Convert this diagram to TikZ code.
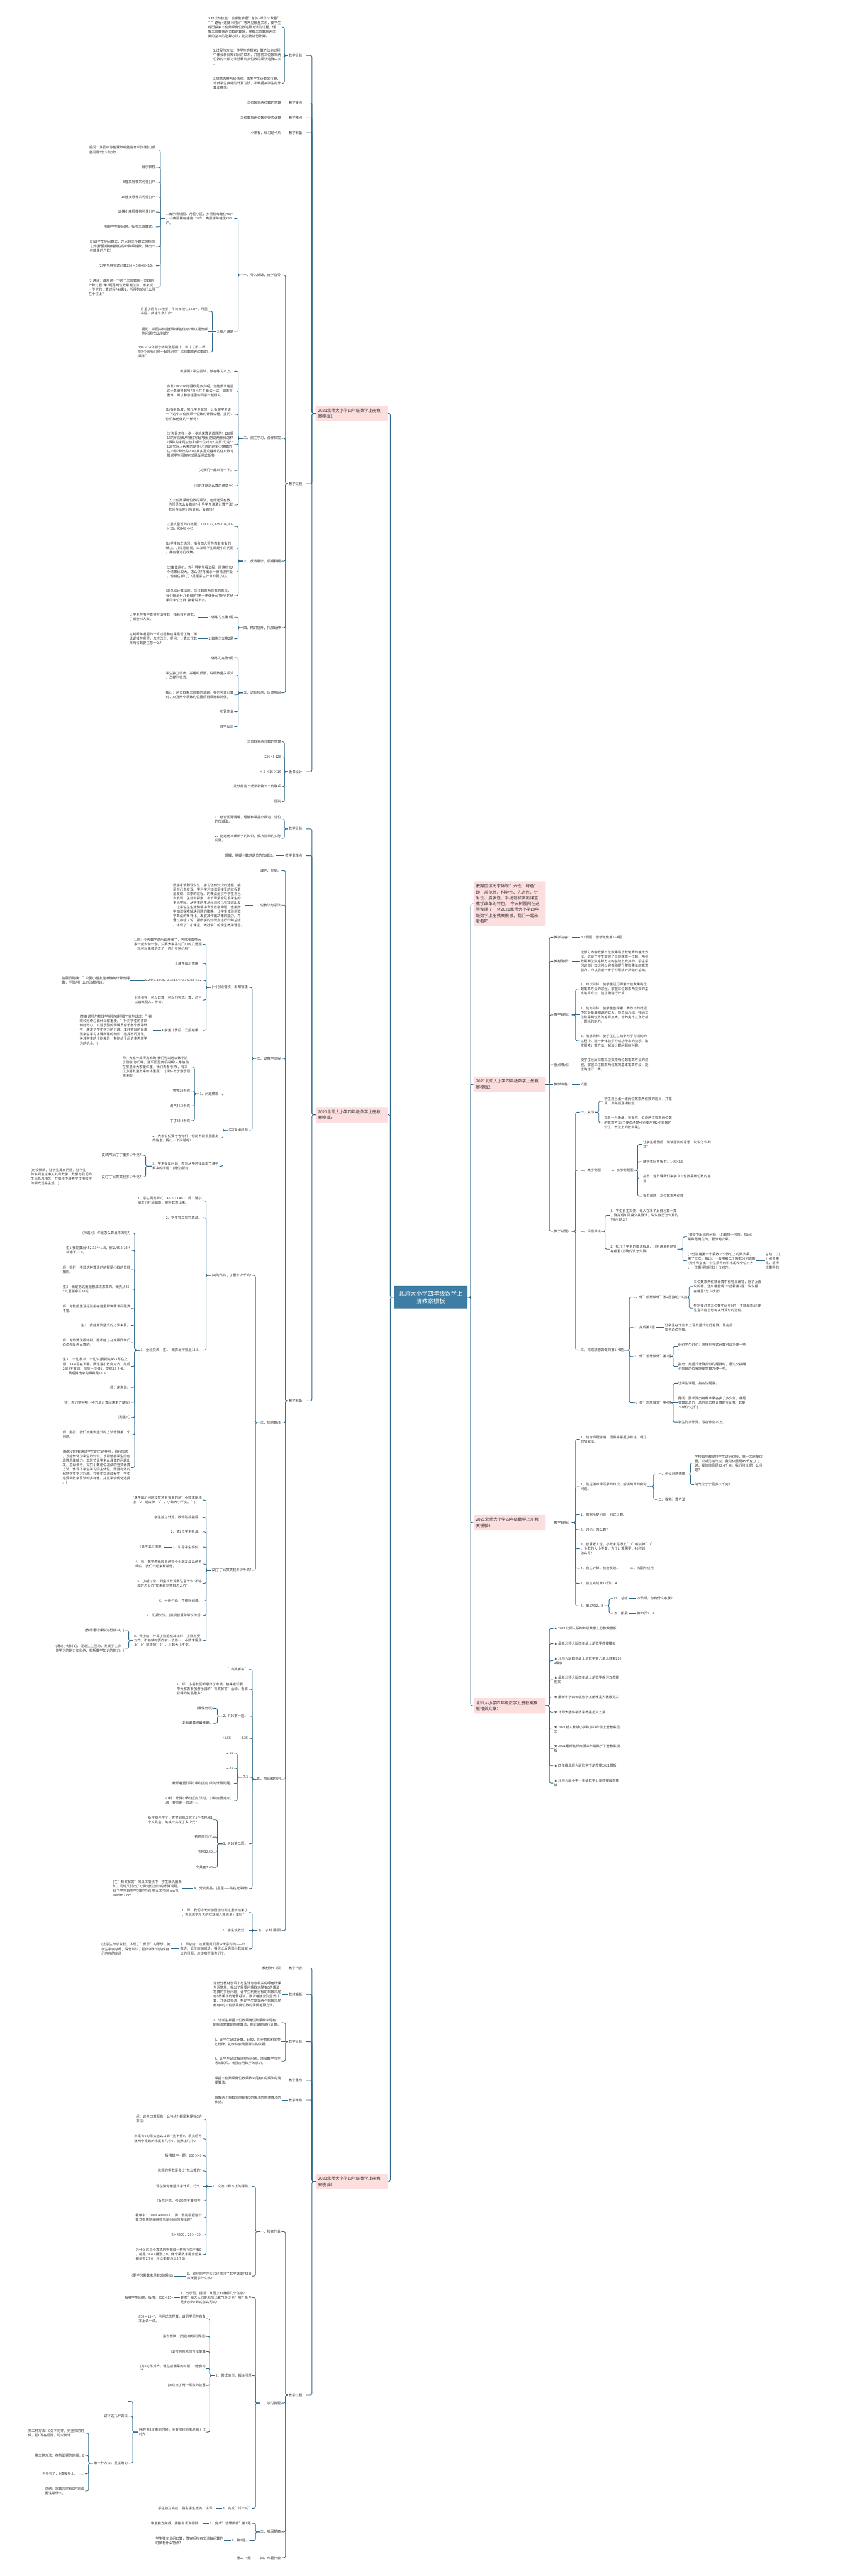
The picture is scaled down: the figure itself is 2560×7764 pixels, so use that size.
\documentclass[tikz,border=0pt]{standalone}
\usepackage{fontspec}
\setmainfont{Noto Sans CJK SC}
\definecolor{lc}{RGB}{47,104,138}
\definecolor{txt}{RGB}{55,55,55}
\definecolor{pinkc}{RGB}{252,222,222}
\definecolor{ctrc}{RGB}{62,126,165}
\definecolor{ctrb}{RGB}{40,95,130}
\newcommand\mmL[3]{\draw[conn] (#2.east) -- (#3,0 |- #2.east) |- (#1.west);}
\newcommand\mmR[3]{\draw[conn] (#2.west) -- (#3,0 |- #2.west) |- (#1.east);}
\newcommand\mmLs[2]{\draw[conn] (#2.east) -- (#1.west);}
\newcommand\mmRs[2]{\draw[conn] (#2.west) -- (#1.east);}
\begin{document}
\begin{tikzpicture}[x=1pt,y=-1pt,
  tx/.style={font=\fontsize{10.2}{13.4}\selectfont, text=txt, inner sep=2pt},
  L/.style={tx, anchor=east, align=left},
  R/.style={tx, anchor=west, align=left},
  conn/.style={draw=lc, line width=1.7pt, rounded corners=5pt},
  pk/.style={fill=pinkc, rounded corners=3pt, font=\fontsize{12.4}{17.9}\selectfont, text=txt, align=left, text width=203pt, inner xsep=7pt, inner ysep=4pt, minimum height=46pt},
  ctr/.style={fill=ctrc, draw=ctrb, line width=0.8pt, rounded corners=2pt, font=\fontsize{17.5}{23}\selectfont, text=white, align=center, minimum width=221pt, minimum height=67pt}]
\fill[white] (0,0) rectangle (2560,7764);
\useasboundingbox (0,0) rectangle (2560,7764);

% ---------- root and main branches
\node[ctr] (root) at (1297.5,3910) {北师大小学四年级数学上\\册教案模板};
\node[pk] (p1) at (1059.5,1246) {2021北师大小学四年级数学上册教\\案模板1};
\node[pk] (p3) at (1059.5,3360) {2021北师大小学四年级数学上册教\\案模板3};
\node[pk] (p5) at (1059.5,6575) {2021北师大小学四年级数学上册教\\案模板5};
\node[pk, minimum height=135pt, font=\fontsize{12.5}{17.6}\selectfont] (intro) at (1535.5,2724) {教案应该力求体现"六性一特色"，\\即：规范性、科学性、先进性、针\\对性、启发性、系统性和突出课堂\\教学改革的特色。 今天树图网在这\\里整理了一些2021北师大小学四年\\级数学上册教案模板，我们一起来\\看看吧!};
\node[pk] (p2) at (1535.5,3268) {2021北师大小学四年级数学上册教\\案模板2};
\node[pk] (p4) at (1535.5,4589) {2021北师大小学四年级数学上册教\\案模板4};
\node[pk] (rel) at (1535.5,5141) {北师大小学四年级数学上册教案模\\板相关文章：};
\mmL{root}{p1}{1176} \mmL{root}{p3}{1176} \mmL{root}{p5}{1176}
\mmR{root}{intro}{1418} \mmR{root}{p2}{1418} \mmR{root}{p4}{1418} \mmR{root}{rel}{1418}

% ================= 模板1
\node[L] (a1) at (923,167) {教学目标：};
\node[L] (a2) at (923,310) {教学重点：};
\node[L] (a3) at (923,355) {教学难点：};
\node[L] (a4) at (923,400) {教学准备：};
\node[L] (a5) at (923,1458) {教学过程：};
\node[L] (a6) at (923,2326) {板书设计：};
\foreach \n in {a1,a2,a3,a4,a5,a6} {\mmL{p1}{\n}{940}}
\node[L] (a1a) at (849,82) {1.知识与技能：使学生掌握"总价=单价×数量"\\""路程=速度×时间"等常见数量关系，使学生\\经历探索三位数乘两位数笔算方法的过程，理\\解三位数乘两位数的算理，掌握三位数乘两位\\数的基本的笔算方法，能正确进行计算。};
\node[L] (a1b) at (849,172) {2.过程与方法：使学生在探索计算方法的过程\\中体会新旧知识间的联系，并能将三位数乘两\\位数的一般方法迁移到多位数的乘法运算中去\\。};
\node[L] (a1c) at (849,251) {3.情感态度与价值观：激发学生计算的兴趣，\\培养学生良好的计算习惯，不断提高学生的计\\算正确率。};
\foreach \n in {a1a,a1b,a1c} {\mmL{a1}{\n}{857}}
\node[L] (a2a) at (849,310) {三位数乘两位数的笔算}; \mmLs{a2}{a2a}
\node[L] (a3a) at (849,355) {三位数乘两位数列竖式计算}; \mmLs{a3}{a3a}
\node[L] (a4a) at (849,400) {小黑板，练习题卡片}; \mmLs{a4}{a4a}

\node[L] (b1) at (848,829) {一、导入新课，自学指导};
\node[L] (b2) at (848,1321) {二、自主学习，合作探究};
\node[L] (b3) at (848,1691) {三、反馈展示，质疑释疑};
\node[L] (b4) at (848,1892) {四、精讲提升，拓展延伸};
\node[L] (b5) at (848,2088) {五、达标检测，反馈巩固};
\foreach \n in {b1,b2,b3,b4,b5} {\mmL{a5}{\n}{860}}

\node[L] (c1) at (706,659) {1.出示情境图：月星小区，多层楼每幢住48户\\，小高层楼每幢住128户，高层楼每幢住236\\户。};
\node[L] (c2) at (706,999) {2.揭示课题};
\mmL{b1}{c1}{718} \mmL{b1}{c2}{718}
\node[L] (c1a) at (470,452) {提问：从图中你能获取哪些信息?可以提出哪\\些问题?怎么列式?};
\node[L] (c1b) at (470,504) {出示表格};
\node[L] (c1c) at (470,549) {5幢高层楼共可住( )户};
\node[L] (c1d) at (470,594) {16幢多层楼共可住( )户};
\node[L] (c1e) at (470,639) {16幢小高层楼共可住( )户};
\node[L] (c1f) at (470,684) {根据学生的回答，板书三道算式。};
\node[L] (c1g) at (470,743) {(1)请学生列出算式，并比较三个算式的相同\\之处(都要用每幢楼住的户数乘幢数，算出一\\共能住的户数)};
\node[L] (c1h) at (470,801) {(2)学生用竖式计算236×5和48×16。};
\node[L] (c1i) at (470,866) {(3)讲评：谁来说一下这个三位数乘一位数的\\计算过程?第2题是两位数乘两位数，谁来说\\一下它的计算过程?48乘1，所得的8为什么写\\在十位上?};
\foreach \n in {c1a,c1b,c1c,c1d,c1e,c1f,c1g,c1h,c1i} {\mmL{c1}{\n}{483}}
\node[L] (c2a) at (628,938) {月星小区有16幢楼，平均每幢住128户。月星\\小区一共住了多少户?};
\node[L] (c2b) at (628,999) {提问：从图中你能获取哪些信息?可以提出哪\\些问题?怎么列式?};
\node[L] (c2c) at (628,1061) {128×16和刚才的两道题相比，有什么不一样\\呢?今天我们就一起来研究"三位数乘两位数的\\乘法"};
\mmL{c2}{c2a}{640} \mmLs{c2}{c2b} \mmL{c2}{c2c}{640}

\node[L] (b2a) at (706,1119) {教学例1 学生尝试，做在练习本上。};
\node[L] (b2b) at (706,1178) {启发128×16的得数是多少呢，你能尝试用竖\\式计算出得数吗?自己在下面试一试，如果有\\困难，可以和小组里的同学一起研究。};
\node[L] (b2c) at (706,1249) {(1)指名板演，展示学生做的，让板演学生说\\一下这个三位数乘一位数的计算过程。提问：\\你们和他做的一样吗?};
\node[L] (b2d) at (706,1340) {(2)你是怎样一步一步地来算这道题的? 128乘\\16的积应该从哪位写起?我们把这两部分怎样\\?得数的末尾应该和哪一位对齐?(指算式)这个\\128实际上代表的是多少?求的是多少幢楼的\\住户数?算出的2048其实是几幢楼的住户数?(\\根据学生回答完成黑板竖式板书)};
\node[L] (b2e) at (706,1418) {(3)我们一起来答一下。};
\node[L] (b2f) at (706,1464) {(4)刚才是这么算的请举手?};
\node[L] (b2g) at (706,1522) {(5)三位数乘两位数的乘法，老师还没有教，\\你们是怎么会做的?(引导学生说清计算方法)\\教师再给你们两道题，会做吗?};
\foreach \n in {b2a,b2b,b2c,b2d,b2e,b2f,b2g} {\mmL{b2}{\n}{718}}
\node[L] (b3a) at (706,1587) {以竖式呈现的四道题：213×32,375×24,309\\×26，和248×45};
\node[L] (b3b) at (706,1652) {(1)学生独立练习，指名四人写在教者准备的\\纸上。并注意巡视，以发现学生解题中的问题\\，并有意进行收集。};
\node[L] (b3c) at (706,1724) {(2)集体评析。先引导学生看过程，同意吗?这\\个结果比较大，怎么读?再出示一份错误作业\\，他错在哪儿了?提醒学生计算时要小心。};
\node[L] (b3d) at (706,1795) {(3)总结计算法则。三位数乘两位数的乘法，\\我们都是分几步做的?第一步做什么?所得的结\\果的末位怎样?接着说下去。};
\foreach \n in {b3a,b3b,b3c,b3d} {\mmL{b3}{\n}{718}}
\node[L] (d1) at (706,1860) {1.做练习五第1题};
\node[L] (d2) at (706,1925) {2.做练习五第2题};
\mmL{b4}{d1}{718} \mmL{b4}{d2}{718}
\node[L] (d1a) at (596,1860) {让学生在书中直接写出得数，指名核对得数，\\了解全对人数。}; \mmLs{d1}{d1a}
\node[L] (d2a) at (596,1925) {先判断每道题的计算过程和结果是否正确，再\\说说错在哪里，怎样改正。提问：计算三位数\\乘两位数要注意什么?}; \mmLs{d2}{d2a}
\node[L] (b5a) at (706,1983) {做练习五第4题};
\node[L] (b5b) at (706,2035) {学生独立填表，并组织反馈，说明数量关系式\\，怎样列竖式。};
\node[L] (b5c) at (706,2094) {指出：两位数乘三位数的试题，在列竖式计算\\时，交互两个乘数的位置后再乘比较简便。};
\node[L] (b5d) at (706,2145) {布置作业};
\node[L] (b5e) at (706,2190) {教学反思};
\foreach \n in {b5a,b5b,b5d,b5e} {\mmL{b5}{\n}{718}}
\draw[conn] (b5c.east) -- (718,0 |- b5c.east) -- (718,0 |- b5.west) -- (b5.west);

\node[L] (a6a) at (849,2236) {三位数乘两位数的笔算};
\node[L] (a6b) at (849,2281) {236 48 128};
\node[L] (a6c) at (849,2326) {× 5 ×16 ×16};
\node[L] (a6d) at (849,2371) {比较前两个式子和第三个的联系};
\node[L] (a6e) at (849,2416) {区别};
\foreach \n in {a6a,a6b,a6d,a6e} {\mmL{a6}{\n}{857}}
\mmLs{a6}{a6c}

% ================= 模板3
\node[L] (g1) at (923,2498) {教学目标：};
\node[L] (g2) at (923,2579) {教学重难点：};
\node[L] (g3) at (923,4222) {教学准备：};
\foreach \n in {g1,g2,g3} {\mmL{p3}{\n}{940}}
\node[L] (g1a) at (849,2469) {1、结合问题情境，理解和掌握小数进、退位\\的加减法。};
\node[L] (g1b) at (849,2527) {2、能运用本课所学的知识，解决简单的实际\\问题。};
\mmL{g1}{g1a}{857} \mmL{g1}{g1b}{857}
\node[L] (g2a) at (833,2579) {理解、掌握小数进退位的加减法。}; \mmLs{g2}{g2a}

\node[L] (h1) at (848,2624) {课件、星星。};
\node[L] (h2) at (848,2728) {二、说教法与学法};
\node[L] (h3) at (848,3190) {三、说教学流程};
\node[L] (h4) at (848,4288) {三、探索算法};
\node[L] (h5) at (848,5362) {四、巩固和应用};
\node[L] (h6) at (848,5819) {五、总 结 回 顾};
\foreach \n in {h1,h2,h3,h4,h5,h6} {\mmL{g3}{\n}{860}}
\node[L] (h2a) at (738,2728) {数学家波利亚说过：学习任何知识的途径，都\\是自己去发现。学习学习知识是接受的过程更\\是发现、探索的过程。的教法是引导学生自己\\去发现、主动去探索。本节课紧密联系学生的\\生活实际，从学生的生活经验和已有知识出发\\，让学生在生活情境中发现数学问题，运用所\\学知识探索解决问题的策略，让学生体验到数\\学算法的多样化，发展其作出决策的能力。并\\通过小组讨论，把所学的知识点进行归纳总结\\。体现了"小课堂，大社会"的课堂教学理念。};
\mmLs{h2}{h2a}

\node[L] (i1) at (749,2976) {(一)创设情境，旧知铺垫};
\node[L] (i2) at (749,3406) {(二)提出问题};
\mmL{h3}{i1}{760} \mmL{h3}{i2}{760}
\node[L] (i1a) at (610,2846) {1.师：今天数学游乐园开张了，老师准备带大\\家一起去游一游。只要大家答对门口的几道题\\，就可以免费进去了，你们有信心吗?};
\node[L] (i1b) at (610,2904) {2.课件出示情境：};
\node[L] (i1c) at (610,2955) {0.24+0.1 0.82-0.321.54+2.3 9.88-4.32};
\node[L] (i1d) at (610,3014) {3.师引导：可以口算，可以列竖式计算、还可\\以请教别人，等等。};
\node[L] (i1e) at (610,3105) {4.学生计算后，汇报结果。};
\foreach \n in {i1a,i1b,i1c,i1d,i1e} {\mmL{i1}{\n}{621}}
\node[L] (i1c1) at (393,2955) {售票员阿姨："只要小朋友能准确地计算出得\\数，不管用什么方法都可以。}; \mmLs{i1c}{i1c1}
\node[L] (i1e1) at (460,3105) {(华裔诺贝尔物理学获奖者杨振宁先生说过："喜\\欢和好奇心比什么都重要。"针对学生的喜欢\\和好奇心，以游乐园的情境贯穿于各个教学环\\节，激发了学生学习的兴趣。本环节目的是激\\活学生学习本课所需的知识，选择不同算法，\\关注学生的个别差异，特别给予后进生再次学\\习的机会。)}; \mmLs{i1e}{i1e1}

\node[L] (j1) at (661,3297) {1、问题情境};
\node[L] (j2) at (661,3430) {2、大象伯伯要考考你们：你能不能根据图上\\的信息，提出一个问题呢?};
\node[L] (j3) at (661,3515) {3、学生提出问题，教师从中选择出本节课将\\解决的问题：(退位减法)};
\foreach \n in {j1,j2,j3} {\mmL{i2}{\n}{672}}
\node[L] (j1a) at (575,3216) {师：大家计算得真准确!我们可以进去数学游\\乐园喽!你们瞧，游乐园里真乐闹啊!大象伯伯\\在那里给大家量体重，我们去看看!哦，有三\\位小朋友量出来的体重是......(课件出示游乐园\\情境图)};
\node[L] (j1b) at (575,3288) {笑笑38千克};
\node[L] (j1c) at (575,3333) {淘气45.2千克};
\node[L] (j1d) at (575,3378) {丁丁33.4千克};
\foreach \n in {j1a,j1b,j1c,j1d} {\mmL{j1}{\n}{586}}
\node[L] (j3a) at (428,3482) {(1)淘气比丁丁重多少千克?};
\node[L] (j3b) at (428,3547) {(2)丁丁比笑笑轻多少千克?};
\mmL{j3}{j3a}{439} \mmL{j3}{j3b}{439}
\node[L] (j3b1) at (279,3547) {(创设情境，让学生提出问题，让学生\\体会到生活中处处有数学，数学与我们的\\生活息息相关，在情境中培养学生用数学\\的眼光观察生活。)}; \mmLs{j3b}{j3b1}

\node[L] (k1) at (760,3844) {(1)淘气比丁丁重多少千克?};
\node[L] (k2) at (760,4733) {(2)丁丁比笑笑轻多少千克?};
\mmL{h4}{k1}{770} \mmL{h4}{k2}{770}
\node[L] (k1a) at (610,3619) {1、学生列出算式：45.2-33.4=2、师：请小\\朋友们开动脑筋，把得数算出来。};
\node[L] (k1b) at (610,3670) {2、学生独立探究算法。};
\node[L] (k1c) at (610,4069) {3、全班交流：生1：我算出得数是11.8。};
\foreach \n in {k1a,k1b,k1c} {\mmL{k1}{\n}{621}}
\node[L] (kc1) at (395,3716) {(师追问：你是怎么算出来的呢?)};
\node[L] (kc2) at (395,3768) {生1:我先算出452-334=118，那么45.2-33.4\\就等于11.8。};
\node[L] (kc3) at (395,3827) {师：很好，不过这种算法的前提是小数的位数\\相同。};
\node[L] (kc4) at (395,3885) {生2：我是把这道题想成钱来算的。我先从45.\\2元里面拿出33元......};
\node[L] (kc5) at (395,3944) {师：你能把生活经验用在这里解决算术问题真\\不错。};
\node[L] (kc6) at (395,3995) {生3：我能用列竖式的方法来算。};
\node[L] (kc7) at (395,4047) {师：你的算法很特别，能不能上台来跟同学们\\说说你是怎么算的。};
\node[L] (kc8) at (395,4118) {生3：(一边板书，一边讲)我把先45.2写在上\\面，33.4写在下面，要注意小数点对齐，然后\\2减4不够减，找前一位借1，变成12-4=8，\\......最后算出来的得数是11.8};
\node[L] (kc9) at (395,4182) {师：谢谢你。};
\node[L] (kc10) at (395,4227) {师：你们觉得哪一种方法计算起来更方便呢?};
\node[L] (kc11) at (395,4272) {(列竖式)};
\node[L] (kc12) at (395,4324) {师：那好，我们就用列竖式的方法计算第二个\\问题。};
\node[L] (kc13) at (395,4423) {(新知识只有通过学生的主动参与，自行探索\\，才能转化为学生的知识，才能培养学生的创\\造性思维能力。本环节让学生从具体的问题出\\发，主动参与，探究小数退位减法的竖式计算\\方法，体现了学生学习的主体性，而且有效的\\保持学生学习兴趣。在师生交流过程中，学生\\感受到数学算法的多样化，并且学会优化选择\\。)};
\foreach \n in {kc1,kc2,kc3,kc4,kc5,kc6,kc7,kc8,kc9,kc10,kc11,kc12,kc13} {\mmL{k1c}{\n}{406}}

\node[L] (k2a) at (610,4521) {(课件出示问题及智慧爷爷说的话"小数末尾添\\上‘0’或去掉‘0’，小数大小不变。")};
\node[L] (k2b) at (610,4573) {1、学生独立计算，教师巡视指导。};
\node[L] (k2c) at (610,4617) {2、请2位学生板演。};
\node[L] (k2d) at (610,4663) {3、引导学生评价。};
\node[L] (k2e) at (610,4714) {4、师：数学游乐园里还有个小朋友晶晶还不\\明白，我们一起来帮帮他。};
\node[L] (k2f) at (610,4772) {5、小组讨论：列竖式计算要注意什么?不够\\减时怎么办?如果碰到整数怎么办?};
\node[L] (k2g) at (610,4825) {6、分组讨论，并做好记录。};
\node[L] (k2h) at (610,4869) {7、汇报交流。(强调智慧爷爷说的话)};
\node[L] (k2i) at (610,4945) {8、师小结：计算小数退位减法时，小数点要\\对齐，不够减时要向前一位借一。小数末尾添\\上"0"或去掉"0"，小数大小不变。};
\foreach \n in {k2a,k2b,k2c,k2d,k2e,k2f,k2g,k2h,k2i} {\mmL{k2}{\n}{621}}
\node[L] (k2d1) at (492,4663) {(课件出示情境)}; \mmLs{k2d}{k2d1}
\node[L] (k2i1) at (377,4915) {(教师通过课件进行板书。)};
\node[L] (k2i2) at (377,4968) {(通过小组讨论，促进生生互动，发展学生合\\作学习的能力和归纳、概括数学知识的能力。)};
\mmL{k2i}{k2i1}{388} \mmL{k2i}{k2i2}{388}

\node[L] (l1) at (749,5032) {"有奖解答"};
\node[L] (l2) at (749,5091) {1、师：小朋友们都学好了本领，接来老师要\\带大家去参加游乐园的"有奖解答"活动，看谁\\获得的奖品最多?};
\node[L] (l3) at (749,5172) {2、P16第一题。};
\node[L] (l4) at (749,5239) {8.25};
\node[L] (l5) at (749,5356) {7.3};
\node[L] (l6) at (749,5557) {3、P16第二题。};
\node[L] (l7) at (749,5692) {4、分发奖品。(星星——贴在光荣榜)};
\foreach \n in {l1,l2,l3,l4,l5,l6,l7} {\mmL{h5}{\n}{760}}
\node[L] (l3a) at (643,5149) {(课件出示)};
\node[L] (l3b) at (643,5194) {(1)看谁算得最准确。};
\mmL{l3}{l3a}{655} \mmL{l3}{l3b}{655}
\node[L] (l4a) at (698,5239) {+1.55}; \mmLs{l4}{l4a}
\node[L] (l5a) at (705,5284) {-2.25};
\node[L] (l5b) at (705,5330) {- 2.45};
\node[L] (l5c) at (705,5375) {教师着重引导小数进位加法的计算问题。};
\node[L] (l5d) at (705,5427) {小结：计算小数进位加法时，小数点要对齐，\\满十要向前一位进一。};
\foreach \n in {l5a,l5b,l5c,l5d} {\mmL{l5}{\n}{715}}
\node[L] (l6a) at (643,5485) {新学期开学了，笑笑到商店买了1个书包和1\\个文具盒，笑笑一共花了多少元?};
\node[L] (l6b) at (643,5537) {名称单价/元};
\node[L] (l6c) at (643,5582) {书包32.50};
\node[L] (l6d) at (643,5628) {文具盒7.60};
\foreach \n in {l6a,l6b,l6c,l6d} {\mmL{l6}{\n}{655}}
\node[L] (l7a) at (550,5692) {(在"有奖解答"的具体情境中，学生既巩固新\\知，同时又引出了小数进位加法的计算问题。\\给予学生自主学习的空间) 第九文书网 wwW.\\9Word.Com}; \mmLs{l7}{l7a}

\node[L] (m1) at (749,5764) {1、师：我们今天的游园活动到这里就结束了\\，你愿意把今天的收获和大象伯伯分享吗?};
\node[L] (m2) at (749,5819) {2、学生谈收获。};
\node[L] (m3) at (749,5874) {3、师总结：这就是我们所今天学习的——小\\数进、退位的加减法。相信以后遇到小数加减\\法的问题，应该难不倒你们了。};
\mmL{h6}{m1}{760} \mmLs{h6}{m2} \mmL{h6}{m3}{760}
\node[L] (m3a) at (515,5874) {(让学生分享收获，体现了"反思"的思想，使\\学生学会总结，深化认识，把所学知识变成自\\己内在的东西}; \mmLs{m3}{m3a}

% ================= 模板5
\node[L] (n1) at (923,5932) {教学内容：};
\node[L] (n2) at (923,6011) {教材简析：};
\node[L] (n3) at (923,6154) {教学目标：};
\node[L] (n4) at (923,6270) {教学重点：};
\node[L] (n5) at (923,6329) {教学难点：};
\node[L] (n6) at (923,7218) {教学过程：};
\foreach \n in {n1,n2,n3,n4,n5,n6} {\mmL{p5}{\n}{940}}
\node[L] (n1a) at (848,5932) {教材第4-5页}; \mmLs{n1}{n1a}
\node[L] (n2a) at (849,6011) {这部分教材创设了与生活息息相关的绿色环保\\生活情境，提出了需要用乘数末尾有0的乘法\\笔算的实际问题，让学生利用已有的乘数末尾\\有0的乘法的笔算经验，尝试着独立列竖式计\\算，并通过交流，帮助学生掌握两个乘数末尾\\都有0的三位数乘两位数的简便笔算方法。}; \mmLs{n2}{n2a}
\node[L] (n3a) at (848,6096) {1、让学生掌握三位数乘两位数乘数末尾有0\\的乘法笔算的简便算法，能正确的进行计算。};
\node[L] (n3b) at (848,6154) {2、让学生通过计算、比较，初步感知积的变\\化规律，初步体会简便算法的依据。};
\node[L] (n3c) at (848,6212) {3、让学生通过解决实际问题，体验数学与生\\活的联系，增强应用数学的意识。};
\mmL{n3}{n3a}{860} \mmLs{n3}{n3b} \mmL{n3}{n3c}{860}
\node[L] (n4a) at (849,6270) {掌握三位数乘两位数乘数末尾有0的乘法的简\\便算法。}; \mmLs{n4}{n4a}
\node[L] (n5a) at (849,6329) {理解两个乘数末尾都有0的乘法的简便算法的\\依据。}; \mmLs{n5}{n5a}

\node[L] (o1) at (848,6726) {一、检查作业};
\node[L] (o2) at (848,7243) {二、学习例题};
\node[L] (o3) at (848,7631) {三、巩固提高};
\node[L] (o4) at (848,7709) {四、布置作业};
\foreach \n in {o1,o2,o3,o4} {\mmL{n6}{\n}{860}}
\node[L] (o4a) at (758,7709) {第2、4题}; \mmLs{o4}{o4a}
\node[L] (q1) at (760,6590) {1、交流口算本上的得数。};
\node[L] (q2) at (760,6860) {2、哪些同学昨天已经预习了数学课本?知道\\今天要学什么吗?};
\mmL{o1}{q1}{770} \mmL{o1}{q2}{770}
\node[L] (q2a) at (524,6860) {(要学习乘数末尾有0的乘法)}; \mmLs{q2}{q2a}
\node[L] (q1a) at (610,6387) {问：这些口算题有什么特点?(都是末尾有0的\\乘法)};
\node[L] (q1b) at (610,6446) {末尾有0的乘法怎么口算?(先不看0，乘完后再\\数两个乘数的末尾有几个0，就添上几个0)};
\node[L] (q1c) at (610,6497) {板书其中一题：200×43};
\node[L] (q1d) at (610,6543) {这题的得数是多少?怎么算的?};
\node[L] (q1e) at (610,6590) {现在请你用竖式来计算，行么?};
\node[L] (q1f) at (610,6633) {(板书竖式，强调0先不要对齐)};
\node[L] (q1g) at (610,6684) {看板书：200×43=8600，问：谁能根据这个\\算式很快地编得数也是8600的乘法题?};
\node[L] (q1h) at (610,6736) {(2×4300，20×430)};
\node[L] (q1i) at (610,6795) {为什么这三个算式的得数都一样呢?(先不看0\\，都是2×43;再添上0，两个乘数末尾合起来\\都是有2个0，所以都要添上2个0)};
\foreach \n in {q1a,q1b,q1c,q1d,q1f,q1g,q1h,q1i} {\mmL{q1}{\n}{621}}
\mmLs{q1}{q1e}

\node[L] (r1) at (760,6925) {1、出示图，提问：从图上知道哪几个信息?\\要求"每天大约能释放出氧气多少克"哪个条件\\是多余的?算式怎么列式?};
\node[L] (r2) at (760,7160) {2、尝试练习，解决问题};
\node[L] (r3) at (760,7560) {3、完成"试一试"};
\foreach \n in {r1,r2,r3} {\mmL{o2}{\n}{770}}
\node[L] (r1a) at (524,6925) {指名学生回答，板书：850×15=}; \mmLs{r1}{r1a}
\node[L] (r3a) at (652,7560) {学生独立完成，指名学生板演。讲评。}; \mmLs{r3}{r3a}
\node[L] (r2a) at (622,6989) {850×15=?，用竖式怎样算，请同学们在自备\\本上试一试。};
\node[L] (r2b) at (622,7042) {指名板演，(可能出现的情况)};
\node[L] (r2c) at (622,7088) {(1)按照原来的方法笔算};
\node[L] (r2d) at (622,7139) {(2)0先不对齐，但在前面乘的时候，0也参与\\了};
\node[L] (r2e) at (622,7190) {(3)交换了两个乘数的位置};
\node[L] (r2f) at (622,7330) {(4)在第2步乘的时候，没有把积的末尾和十位\\对齐};
\foreach \n in {r2a,r2b,r2c,r2d,r2e,r2f} {\mmL{r2}{\n}{632}}
\node[L] (r2f1) at (387,7238) {......};
\node[L] (r2f2) at (387,7282) {讲评这几种做法};
\node[L] (s3) at (387,7424) {第一种方法：是正确的};
\foreach \n in {r2f1,r2f2,s3} {\mmL{r2f}{\n}{400}}
\node[L] (s3a) at (256,7333) {第二种方法：0先不对齐，列竖式的时\\候，把0写在后面，可以使计};
\node[L] (s3b) at (256,7400) {第三种方法：在前面乘的时候，0};
\node[L] (s3c) at (256,7456) {也参与了，0直接补上。 ......};
\node[L] (s3d) at (256,7508) {总结：乘数末尾有0的乘法\\要注意什么。};
\foreach \n in {s3a,s3b,s3c,s3d} {\mmL{s3}{\n}{267}}

\node[L] (t1) at (758,7605) {1、完成"想想做做"第1题};
\node[L] (t2) at (752,7657) {2、第3题。};
\mmL{o3}{t1}{770} \mmL{o3}{t2}{770}
\node[L] (t1a) at (610,7605) {学生独立完成，再指名说说得数。}; \mmLs{t1}{t1a}
\node[L] (t2a) at (675,7657) {学生独立分组口算，算完后指名交流每组算的\\时候有什么特点?}; \mmLs{t2}{t2a}

% ================= 模板2 (right)
\node[R] (u1) at (1667,2825) {教学内容：};
\node[R] (u2) at (1667,2897) {教材简析：};
\node[R] (u3) at (1667,3059) {教学目标：};
\node[R] (u4) at (1667,3209) {重点难点：};
\node[R] (u5) at (1667,3268) {教学准备：};
\node[R] (u6) at (1667,3711) {教学过程：};
\foreach \n in {u1,u2,u3,u4,u6} {\mmR{p2}{\n}{1655}}
\mmRs{p2}{u5}
\node[R] (u1a) at (1747,2825) {p.1例题，想想做做第1\textasciitilde4题}; \mmRs{u1}{u1a}
\node[R] (u2a) at (1747,2897) {这部分内容教学三位数乘两位数笔算的基本方\\法。这是在学生掌握了三位数乘一位数、两位\\数乘两位数笔算方法的基础上安排的。学生学\\习这部分知识可以完善和提升整数乘法的笔算\\能力，为以后进一步学习乘法计算做好基础。}; \mmRs{u2}{u2a}
\node[R] (u3a) at (1747,2981) {1、知识目标：使学生经历探索三位数乘两位\\数笔算方法的过程，掌握三位数乘两位数的基\\本笔算方法，能正确进行计算。};
\node[R] (u3b) at (1747,3059) {2、能力目标：使学生在探索计算方法的过程\\中体会新旧知识的联系，能主动总结、归纳三\\位数乘两位数的笔算放大，培养类比以及分析\\、概括的能力。};
\node[R] (u3c) at (1747,3137) {3、情感目标：使学生在主动参与学习活动的\\过程中，进一步体验学习成功带来的快乐，激\\发探索计算方法、解决计算问题的兴趣。};
\mmR{u3}{u3a}{1734} \mmRs{u3}{u3b} \mmR{u3}{u3c}{1734}
\node[R] (u4a) at (1747,3209) {使学生经历探索三位数乘两位数笔算方法的过\\程，掌握三位数乘两位数的基本笔算方法，能\\正确进行计算。}; \mmRs{u4}{u4a}
\node[R] (u5a) at (1747,3268) {光盘}; \mmRs{u5}{u5a}

\node[R] (v1) at (1747,3352) {一、复习};
\node[R] (v2) at (1747,3527) {二、教学例题};
\node[R] (v3) at (1747,3711) {二、探索算法};
\node[R] (v4) at (1747,4069) {三、完成想想做做的第1\textasciitilde4题};
\mmR{u6}{v1}{1734} \mmR{u6}{v2}{1734} \mmRs{u6}{v3} \mmR{u6}{v4}{1734}
\node[R] (v1a) at (1818,3319) {学生自己出一道两位数乘两位数的题目，并笔\\算。算完后互相检查。};
\node[R] (v1b) at (1818,3384) {指名一人板演，看板书，说说两位数乘两位数\\的笔算方法(主要说清楚分别要用第2个乘数的\\个位、十位上的数去乘)。};
\mmR{v1}{v1a}{1804} \mmR{v1}{v1b}{1804}
\node[R] (v2a) at (1839,3527) {1、出示例题图}; \mmRs{v2}{v2a}
\node[R] (v2a1) at (1935,3449) {让学生看图后，读读题目的意思，说说怎么列\\式?};
\node[R] (v2a2) at (1935,3501) {随学生回答板书：144×15};
\node[R] (v2a3) at (1935,3553) {指出：这节课我们来学习三位数乘两位数的笔\\算};
\node[R] (v2a4) at (1935,3605) {板书课题：三位数乘两位数};
\foreach \n in {v2a1,v2a2,v2a3,v2a4} {\mmR{v2a}{\n}{1921}}
\node[R] (v3a) at (1837,3663) {1、学生自主探索：每人在本子上自己算一算\\，算完后和同桌交换算法，说说自己怎么算的\\?有问题么?};
\node[R] (v3b) at (1837,3765) {2、找几个学生的做法板演，分别说说各题错\\在哪里?正确的该怎么算?};
\mmR{v3}{v3a}{1823} \mmR{v3}{v3b}{1823}
\node[R] (v3b1) at (2070,3728) {(课堂中出现的问题：(1)直接一次乘。指出：\\乘数是两位的，要分两次乘。};
\node[R] (v3b2) at (2070,3800) {(2)分别用第一个乘数三个数位上的数去乘，\\乘了三次。指出：一般用第二个乘数分别去乘\\)另外再指出：个位乘得的积末尾和个位对齐\\，十位乘得的积和十位对齐。};
\mmR{v3b}{v3b1}{2057} \mmR{v3b}{v3b2}{2057}
\node[R] (v3b2a) at (2304,3800) {总结：(1)\\分别去乘\\乘，乘得\\次乘得的}; \mmRs{v3b2}{v3b2a}

\node[R] (w1) at (1908,3910) {1、做"想想做做"第2题(做在书上)};
\node[R] (w2) at (1908,4001) {2、完成第1题};
\node[R] (w3) at (1908,4088) {3、做"想想做做"第3题};
\node[R] (w4) at (1908,4228) {4、做"想想做做"第4题};
\foreach \n in {w1,w2,w3,w4} {\mmR{v4}{\n}{1896}}
\node[R] (w1a) at (2088,3878) {三位数乘两位数计算中很容易出错，除了上面\\说的错，还有哪些呢?一起看第2题：说说错\\在哪里?怎么改正?};
\node[R] (w1b) at (2088,3943) {特别要注意三位数中间有0时，不能漏乘;还要\\注意不能忘记每次计算时的进位。};
\mmR{w1}{w1a}{2076} \mmR{w1}{w1b}{2076}
\node[R] (w2a) at (2001,4001) {让学生在作业本上写出竖式进行笔算，算完后\\指名说说得数。}; \mmRs{w2}{w2a}
\node[R] (w3a) at (2041,4059) {组织学生讨论：怎样列竖式计算可以方便一些\\?};
\node[R] (w3b) at (2041,4118) {指出：用竖式计算类似的题目时，通过交换两\\个乘数的位置能使笔算方便一些。};
\mmR{w3}{w3a}{2028} \mmR{w3}{w3b}{2028}
\node[R] (w4a) at (2041,4169) {让学生读题，指名说题意。};
\node[R] (w4b) at (2041,4228) {提问：要求算出每种水果各卖了多少元，就是\\要算出总价，总价是怎样计算的?(板书：数量\\×单价=总价)};
\node[R] (w4c) at (2041,4286) {学生列式计算，写在作业本上。};
\mmR{w4}{w4a}{2028} \mmRs{w4}{w4b} \mmR{w4}{w4c}{2028}

% ================= 模板4 (right)
\node[R] (x1) at (1667,4589) {教学目标：}; \mmRs{p4}{x1}
\node[R] (y1) at (1747,4338) {1、结合问题情境，理解并掌握小数进、退位\\的加减法。};
\node[R] (y2) at (1747,4481) {2、能运用本课所学的知识，解决简单的实际\\问题。};
\node[R] (y3) at (1747,4565) {1、根据所提问题，列式计算。};
\node[R] (y4) at (1747,4610) {2、讨论：怎么算?};
\node[R] (y5) at (1747,4668) {3、智慧老人说，小数末尾添上"0"或去掉"0"\\，小数的大小不变。为了计算需要，45可以\\怎么写?};
\node[R] (y6) at (1747,4727) {4、自主计算，检查反馈。};
\node[R] (y7) at (1747,4772) {1、独立完成第17页1、4};
\node[R] (y8) at (1747,4840) {2、第17页2、5};
\foreach \n in {y1,y2,y3,y4,y5,y6,y7,y8} {\mmR{x1}{\n}{1734}}
\node[R] (y2a) at (1981,4442) {一、创设问题情境};
\node[R] (y2b) at (1981,4519) {二、探究计算方法};
\mmR{y2}{y2a}{1969} \mmR{y2}{y2b}{1969}
\node[R] (y2a1) at (2091,4410) {学校每年都安排学生进行体检，第一关是量体\\重。只听见淘气说，我的体重是45千克;丁丁\\说，我的体重是33.4千克。我们可以提什么问\\题?};
\node[R] (y2a2) at (2091,4474) {淘气比丁丁重多少千克?};
\mmR{y2a}{y2a1}{2080} \mmR{y2a}{y2a2}{2080}
\node[R] (y6a) at (1896,4727) {三、巩固与应用}; \mmRs{y6}{y6a}
\node[R] (z1) at (1848,4818) {四、总结};
\node[R] (z2) at (1848,4862) {五、拓展};
\mmR{y8}{z1}{1835} \mmR{y8}{z2}{1835}
\node[R] (z1a) at (1917,4818) {本节课，你有什么收获?}; \mmRs{z1}{z1a}
\node[R] (z2a) at (1917,4862) {第17页3、6}; \mmRs{z2}{z2a}

% ================= 相关文章
\node[R] (e1) at (1667,4908) {★ 2021北师大版四年级数学上册教案模板};
\node[R] (e2) at (1667,4954) {★ 最新北师大版四年级上册数学教案模板};
\node[R] (e3) at (1667,5005) {★ 北师大版四年级上册数学第六单元教案202\\1模板};
\node[R] (e4) at (1667,5063) {★ 最新北师大版四年级上册数学练习五教案\\例文};
\node[R] (e5) at (1667,5115) {★ 最新小学四年级数学上册教案人教版范文};
\node[R] (e6) at (1667,5160) {★ 北师大版小学数学教案范文五篇};
\node[R] (e7) at (1667,5212) {★ 2021新人教版小学数学四年级上册教案范\\文};
\node[R] (e8) at (1667,5270) {★ 2021最新北师大版四年级数学下册教案模\\板};
\node[R] (e9) at (1667,5322) {★ 四年级北师大版数学下册教案2021模板};
\node[R] (e10) at (1667,5374) {★ 北师大版小学一年级数学上册教案最新模\\板};
\foreach \n in {e1,e2,e3,e4,e5,e6,e7,e8,e9,e10} {\mmR{rel}{\n}{1655}}
\end{tikzpicture}
\end{document}
